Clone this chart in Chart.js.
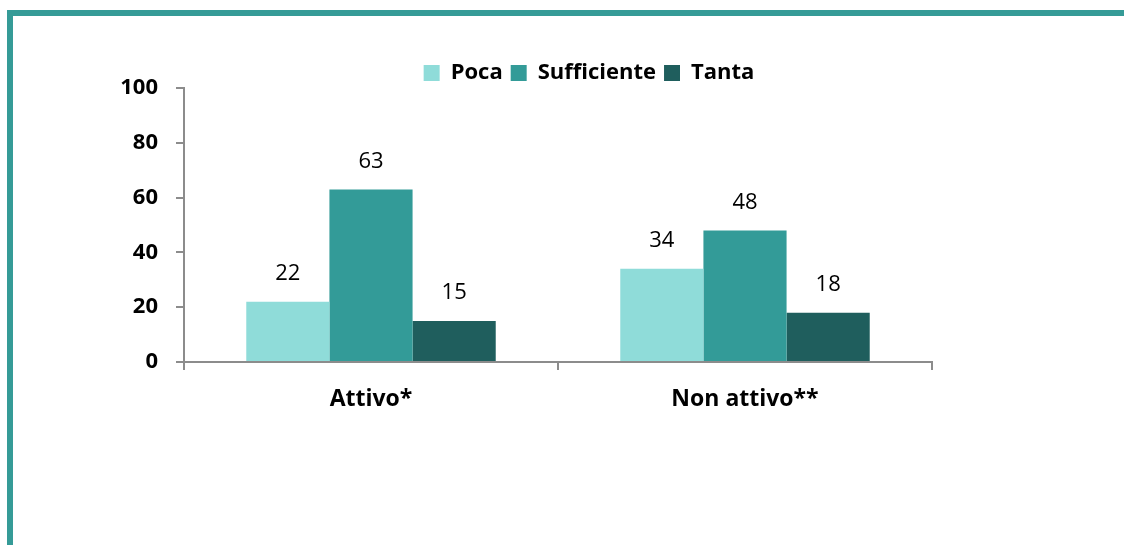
<!DOCTYPE html>
<html>
<head>
<meta charset="utf-8">
<script src="https://cdn.jsdelivr.net/npm/chart.js@4"></script>
<style>
  html, body { margin: 0; padding: 0; background: #fff; }
  #frame { position: absolute; left: 0; top: 0; width: 1124px; height: 545px; overflow: hidden; }
  #bordoTop { position: absolute; left: 7px; top: 10px; width: 1117px; height: 6px; background: #359b97; }
  #bordoSx { position: absolute; left: 7px; top: 10px; width: 6px; height: 535px; background: #359b97; }
  #wrap { position: absolute; left: 0; top: 0; width: 1124px; height: 545px; }
</style>
</head>
<body>
<div id="frame">
  <div id="bordoTop"></div>
  <div id="bordoSx"></div>
  <div id="wrap"><canvas id="canvas"></canvas></div>
</div>
<script>
"use strict"

const categorie = ['Attivo*', 'Non attivo**'];
const poca = [22, 34];
const sufficiente = [63, 48];
const tanta = [15, 18];
const tickY = [0, 20, 40, 60, 80, 100];

const FONT = '"Open Sans", Lato, sans-serif';

// etichette dei valori sopra le barre
const etichette = {
    id: 'etichette',
    afterDatasetsDraw(chart){
        let ctx = chart.ctx;
        ctx.save();
        ctx.font = '22px ' + FONT;
        ctx.fillStyle = '#000';
        ctx.textAlign = 'center';
        ctx.textBaseline = 'middle';
        chart.data.datasets.forEach((ds, i) => {
            chart.getDatasetMeta(i).data.forEach((bar, j) => {
                ctx.fillText(ds.data[j], bar.x, bar.y - 28);
            });
        });
        ctx.restore();
    }
};

// sposta la legenda come nell'originale
const spostaLegenda = {
    id: 'spostaLegenda',
    afterLayout(chart){
        let lg = chart.legend;
        lg.left += 123; lg.right += 123;
        lg.top += 6; lg.bottom += 6;
    }
};

function creaGrafico(){
    let ctx = document.getElementById('canvas').getContext('2d');
    let myChart = new Chart(ctx, {
        type: 'bar',
        data: {
            labels: categorie,
            datasets: [
                { label: 'Poca', data: poca, backgroundColor: '#8fdcd9' },
                { label: 'Sufficiente', data: sufficiente, backgroundColor: '#339b98' },
                { label: 'Tanta', data: tanta, backgroundColor: '#1f5e5d' }
            ]
        },
        options: {
            responsive: true,
            maintainAspectRatio: false,
            animation: false,
            layout: { padding: { top: 48, right: 192, bottom: 133, left: 0 } },
            datasets: { bar: { categoryPercentage: 0.667, barPercentage: 1.0 } },
            plugins: {
                legend: {
                    position: 'top',
                    labels: {
                        boxWidth: 16, boxHeight: 16, padding: 8,
                        color: '#000',
                        font: { family: FONT, size: 22, weight: 'bold' }
                    }
                },
                tooltip: { enabled: false }
            },
            scales: {
                x: {
                    offset: true,
                    grid: { offset: true, drawOnChartArea: false, drawTicks: true, tickLength: 8, color: '#8c8c8c', lineWidth: 2 },
                    border: { color: '#8c8c8c', width: 2 },
                    ticks: { color: '#000', padding: 16, font: { family: FONT, size: 23, weight: 'bold' } },
                    afterFit(scale){ scale.height = 50; }
                },
                y: {
                    min: 0, max: 100,
                    afterBuildTicks(scale){ scale.ticks = tickY.map(v => ({ value: v })); },
                    grid: { drawOnChartArea: false, drawTicks: true, tickLength: 8, color: '#8c8c8c', lineWidth: 2 },
                    border: { color: '#8c8c8c', width: 2 },
                    ticks: { color: '#000', padding: 18, font: { family: FONT, size: 22, weight: 'bold' } },
                    afterFit(scale){ scale.width = 184; }
                }
            }
        },
        plugins: [etichette, spostaLegenda]
    });
}

creaGrafico();
</script>
</body>
</html>
